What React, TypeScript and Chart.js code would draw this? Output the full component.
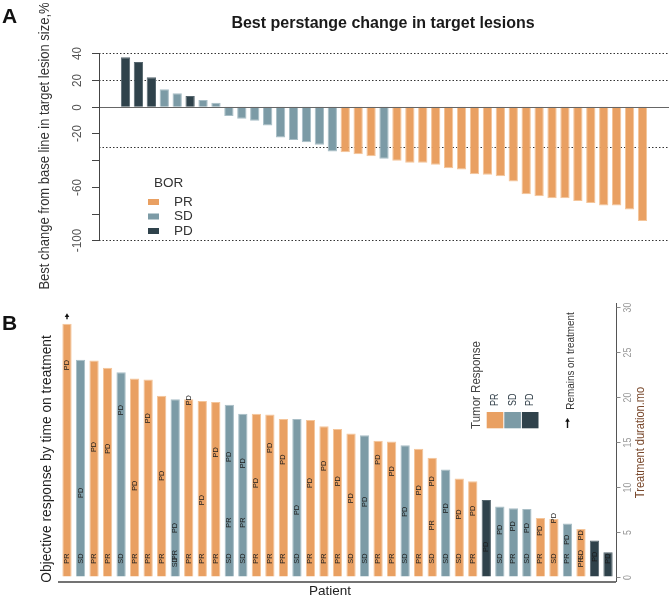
import React, { useEffect, useRef } from 'react';
import { Chart, registerables } from 'chart.js';
Chart.register(...registerables);

const FONT = '"Liberation Sans", Arial, sans-serif';
const COLORS: Record<string, string> = { PR: '#E9A062', SD: '#7C9BA6', PD: '#2F424B' };
const EDGES: Record<string, string> = { PR: '#F4C59A', SD: '#A8BEC6', PD: '#56666E' };

// ---------- Panel A: best % change in target lesions ----------
const changeValues = [
  37, 33.5, 22, 13, 10, 8, 5, 3, -7, -9, -10.5, -14, -23, -25, -26.5, -28.5, -33.5,
  -34, -35.5, -37, -39, -40.5, -42, -42, -43.5, -46, -47, -50.5, -51, -52, -56,
  -65.5, -67, -68.5, -68.5, -70.5, -72, -74, -74, -77, -85.5,
];
const changeBOR = [
  'PD', 'PD', 'PD', 'SD', 'SD', 'PD', 'SD', 'SD', 'SD', 'SD', 'SD', 'SD', 'SD', 'SD', 'SD', 'SD', 'SD',
  'PR', 'PR', 'PR', 'SD', 'PR', 'PR', 'PR', 'PR', 'PR', 'PR', 'PR', 'PR', 'PR', 'PR',
  'PR', 'PR', 'PR', 'PR', 'PR', 'PR', 'PR', 'PR', 'PR', 'PR',
];
const changeTicks = [40, 20, 0, -20, -40, -60, -80, -100];
const changeTickLabels = ['40', '20', '0', '-20', '', '-60', '', '-100'];
const changeRefLines = [40, 20, -30, -100];
const borLegend = ['PR', 'SD', 'PD'];

// ---------- Panel B: time on treatment ----------
const durationMonths = [
  28.1, 24.1, 24.0, 23.2, 22.7, 22.0, 21.9, 20.1, 19.7, 19.7,
  19.5, 19.4, 19.1, 18.1, 18.1, 18.0, 17.5, 17.5, 17.4, 16.7,
  16.4, 15.9, 15.7, 15.1, 15.0, 14.6, 14.2, 13.2, 11.9, 10.9,
  10.6, 8.5, 7.8, 7.6, 7.5, 6.5, 6.4, 5.9, 5.3, 4.0, 2.7,
];
const durationBOR = [
  'PR', 'SD', 'PR', 'PR', 'SD', 'PR', 'PR', 'PR', 'SD', 'PR',
  'PR', 'PR', 'SD', 'SD', 'PR', 'PR', 'PR', 'SD', 'PR', 'PR',
  'PR', 'PR', 'SD', 'PR', 'PR', 'SD', 'PR', 'PR', 'SD', 'PR',
  'PR', 'PD', 'SD', 'SD', 'SD', 'PR', 'PR', 'SD', 'PR', 'PD', 'PD',
];
const startResponse = [
  'PR', 'SD', 'PR', 'PR', 'SD', 'PR', 'PR', 'PR', 'SD', 'PR',
  'PR', 'PR', 'SD', 'SD', 'PR', 'PR', 'PR', 'SD', 'PR', 'PR',
  'PR', 'SD', 'SD', 'PR', 'PR', 'SD', 'PR', 'SD', 'SD', 'SD',
  'PR', null, 'SD', 'PR', 'SD', 'PR', 'SD', 'PR', 'PR', null, null,
];
const startMonth = [
  2, 2, 2, 2, 2, 2, 2, 2, 1.6, 2,
  2, 2, 2, 2, 2, 2, 2, 2, 2, 2,
  2, 2, 2, 2, 2, 2, 2, 2, 2, 2,
  2, 2, 2, 2, 2, 2, 2, 2, 1.6, 2, 2,
];
const pdMonth = [
  23.5, 9.3, 14.4, 14.2, 18.5, 10.1, 17.6, 11.2, 5.4, 19.6,
  8.5, 13.8, 13.3, 12.6, 10.4, 14.3, 13.0, 7.4, 10.4, 12.3,
  10.6, 8.7, 8.3, 13.0, 11.7, 7.2, 9.6, 10.6, 7.6, 6.9,
  7.3, 3.3, 5.2, 5.6, 5.4, 5.1, 6.5, 4.1, 4.6, 2.2, 2.0,
];
const laterPatient = [8, 12, 13, 27, 38];
const laterLabel = ['PR', 'PR', 'PR', 'PR', 'SD'];
const laterMonth = [2.4, 6.0, 6.0, 5.7, 2.4];
const remainsOnTreatment = [0];
const durationTicks = [0, 5, 10, 15, 20, 25, 30];
const tumorLegend = ['PR', 'SD', 'PD'];

function vText(ctx: CanvasRenderingContext2D, text: string, x: number, y: number, font: string, color: string, squeeze = 1) {
  ctx.save();
  ctx.translate(x, y);
  ctx.rotate(-Math.PI / 2);
  ctx.scale(squeeze, 1);
  ctx.font = font;
  ctx.fillStyle = color;
  ctx.textAlign = 'center';
  ctx.textBaseline = 'middle';
  ctx.fillText(text, 0, 0);
  ctx.restore();
}

function arrowUp(ctx: CanvasRenderingContext2D, x: number, yTop: number, yBottom: number, color: string) {
  ctx.save();
  ctx.strokeStyle = color;
  ctx.fillStyle = color;
  ctx.lineWidth = 1.4;
  ctx.beginPath();
  ctx.moveTo(x, yBottom);
  ctx.lineTo(x, yTop + 3);
  ctx.stroke();
  ctx.beginPath();
  ctx.moveTo(x, yTop);
  ctx.lineTo(x - 2.3, yTop + 3.8);
  ctx.lineTo(x + 2.3, yTop + 3.8);
  ctx.closePath();
  ctx.fill();
  ctx.restore();
}

const H_A = 295;
const H_B = 302;
const OFF_B = 295;

export default function App() {
  const refA = useRef<HTMLCanvasElement>(null);
  const refB = useRef<HTMLCanvasElement>(null);

  useEffect(() => {
    const panelA = {
      id: 'panelA',
      beforeDatasetsDraw(chart: any) {
        const { ctx, chartArea, scales } = chart;
        ctx.save();
        ctx.strokeStyle = '#333';
        ctx.lineWidth = 1;
        ctx.setLineDash([1.5, 2]);
        changeRefLines.forEach((v) => {
          const y = Math.round(scales.y.getPixelForValue(v)) + 0.5;
          ctx.beginPath();
          ctx.moveTo(chartArea.left, y);
          ctx.lineTo(chartArea.right, y);
          ctx.stroke();
        });
        ctx.restore();
      },
      afterDatasetsDraw(chart: any) {
        const { ctx, chartArea, scales } = chart;
        const ys = scales.y;
        const left = chartArea.left;
        ctx.save();
        const y0 = Math.round(ys.getPixelForValue(0)) + 0.5;
        ctx.strokeStyle = '#666';
        ctx.lineWidth = 1.2;
        ctx.beginPath();
        ctx.moveTo(left, y0);
        ctx.lineTo(chartArea.right, y0);
        ctx.stroke();
        ctx.strokeStyle = '#444';
        ctx.lineWidth = 1;
        ctx.beginPath();
        ctx.moveTo(left + 0.5, ys.getPixelForValue(40));
        ctx.lineTo(left + 0.5, ys.getPixelForValue(-100));
        ctx.stroke();
        changeTicks.forEach((v, i) => {
          const y = Math.round(ys.getPixelForValue(v)) + 0.5;
          ctx.beginPath();
          ctx.moveTo(left - 7, y);
          ctx.lineTo(left + 0.5, y);
          ctx.stroke();
          if (changeTickLabels[i]) vText(ctx, changeTickLabels[i], left - 22, y, `13px ${FONT}`, '#555', 0.9);
        });
        vText(ctx, 'Best change from base line in target lesion size,%', 45, 146, `14.5px ${FONT}`, '#333', 0.895);
        ctx.font = `bold 16px ${FONT}`;
        ctx.fillStyle = '#1a1a1a';
        ctx.textAlign = 'center';
        ctx.textBaseline = 'alphabetic';
        ctx.fillText('Best perstange change in target lesions', 383, 27.5);
        ctx.font = `bold 21px ${FONT}`;
        ctx.textAlign = 'left';
        ctx.fillStyle = '#111';
        ctx.fillText('A', 2, 23);
        ctx.font = `13.5px ${FONT}`;
        ctx.fillStyle = '#333';
        ctx.textBaseline = 'middle';
        ctx.fillText('BOR', 154, 183);
        borLegend.forEach((k, i) => {
          const cy = 202 + i * 14.5;
          ctx.fillStyle = COLORS[k];
          ctx.fillRect(148, cy - 3, 11, 6);
          ctx.fillStyle = '#333';
          ctx.fillText(k, 174, cy);
        });
        ctx.restore();
      },
    };

    const chartA = new Chart(refA.current!, {
      type: 'bar',
      data: {
        datasets: [{
          data: changeValues.map((v, i) => ({ x: i, y: v })),
          backgroundColor: changeBOR.map((b) => COLORS[b]),
          borderColor: changeBOR.map((b) => EDGES[b]),
          borderWidth: 1,
          barPercentage: 0.9,
          categoryPercentage: 0.8,
        }],
      },
      options: {
        responsive: false,
        animation: false,
        layout: { padding: { left: 99, right: 0, top: 53.3, bottom: H_A - 240.3 } },
        scales: {
          x: { type: 'linear', offset: false, min: -2.05, max: 42.05, display: false },
          y: { type: 'linear', min: -100, max: 40, display: false },
        },
        plugins: { legend: { display: false }, tooltip: { enabled: false } },
      },
      plugins: [panelA],
    } as any);

    const panelB = {
      id: 'panelB',
      afterDatasetsDraw(chart: any) {
        const { ctx, chartArea, scales } = chart;
        const xs = scales.x;
        const ys = scales.y;
        ctx.save();
        const lab = (txt: string, i: number, m: number) =>
          vText(ctx, txt, xs.getPixelForValue(i), ys.getPixelForValue(m), `7.3px ${FONT}`, '#1b1b1b');
        durationMonths.forEach((_, i) => {
          if (startResponse[i]) lab(startResponse[i] as string, i, startMonth[i]);
          if (pdMonth[i] != null) lab('PD', i, pdMonth[i]);
        });
        laterPatient.forEach((p, k) => lab(laterLabel[k], p, laterMonth[k]));
        remainsOnTreatment.forEach((i) => {
          const x = xs.getPixelForValue(i);
          const top = ys.getPixelForValue(durationMonths[i]);
          arrowUp(ctx, x, top - 10.5, top - 4.5, '#111');
        });
        ctx.strokeStyle = '#444';
        ctx.lineWidth = 1.5;
        ctx.beginPath();
        ctx.moveTo(chartArea.left, chartArea.bottom);
        ctx.lineTo(chartArea.right, chartArea.bottom);
        ctx.stroke();
        ctx.lineWidth = 1;
        ctx.strokeStyle = '#555';
        const ax = chartArea.right + 0.5;
        ctx.beginPath();
        ctx.moveTo(ax, chartArea.top);
        ctx.lineTo(ax, chartArea.bottom);
        ctx.stroke();
        durationTicks.forEach((v) => {
          const y = Math.round(ys.getPixelForValue(v)) + 0.5;
          ctx.strokeStyle = '#888';
          ctx.beginPath();
          ctx.moveTo(ax, y);
          ctx.lineTo(ax + 4, y);
          ctx.stroke();
          vText(ctx, String(v), ax + 11.5, y, `10px ${FONT}`, '#999', 0.88);
        });
        vText(ctx, 'Treatment duration.mo', 641, 442.5 - OFF_B, `12px ${FONT}`, '#7A4A2E', 0.92);
        vText(ctx, 'Objective response by time on treatment', 47, 459 - OFF_B, `15.5px ${FONT}`, '#222', 0.89);
        ctx.font = `13.5px ${FONT}`;
        ctx.fillStyle = '#222';
        ctx.textAlign = 'center';
        ctx.textBaseline = 'middle';
        ctx.fillText('Patient', 330, 591.5 - OFF_B);
        ctx.font = `bold 21px ${FONT}`;
        ctx.textAlign = 'left';
        ctx.textBaseline = 'alphabetic';
        ctx.fillStyle = '#111';
        ctx.fillText('B', 2, 330 - OFF_B);
        vText(ctx, 'Tumor Response', 477, 385 - OFF_B, `12.5px ${FONT}`, '#444', 0.92);
        tumorLegend.forEach((k, i) => {
          const x0 = 486.7 + i * 17.6;
          ctx.fillStyle = COLORS[k];
          ctx.fillRect(x0, 412 - OFF_B, 16.6, 16.3);
          vText(ctx, k, x0 + 8.8, 399.7 - OFF_B, `10px ${FONT}`, '#2d3b45', 0.9);
        });
        arrowUp(ctx, 567.5, 418 - OFF_B, 428 - OFF_B, '#111');
        vText(ctx, 'Remains on treatment', 570.5, 361 - OFF_B, `11px ${FONT}`, '#333', 0.9);
        ctx.restore();
      },
    };

    const chartB = new Chart(refB.current!, {
      type: 'bar',
      data: {
        datasets: [{
          data: durationMonths.map((v, i) => ({ x: i, y: v })),
          backgroundColor: durationBOR.map((b) => COLORS[b]),
          borderColor: durationBOR.map((b) => EDGES[b]),
          borderWidth: 1,
          barPercentage: 0.86,
          categoryPercentage: 0.8,
        }],
      },
      options: {
        responsive: false,
        animation: false,
        layout: { padding: { left: 58, right: 669 - 616, top: 303 - OFF_B, bottom: H_B - (582 - OFF_B) } },
        scales: {
          x: { type: 'linear', offset: false, min: -0.665, max: 40.59, display: false },
          y: { type: 'linear', min: -0.6, max: 30.4, display: false },
        },
        plugins: { legend: { display: false }, tooltip: { enabled: false } },
      },
      plugins: [panelB],
    } as any);

    return () => {
      chartA.destroy();
      chartB.destroy();
    };
  }, []);

  return (
    <div style={{ position: 'absolute', left: 0, top: 0, width: 669, height: 597, background: '#fff' }}>
      <canvas ref={refA} width={669} height={H_A} style={{ position: 'absolute', left: 0, top: 0, width: 669, height: H_A }} />
      <canvas ref={refB} width={669} height={H_B} style={{ position: 'absolute', left: 0, top: OFF_B, width: 669, height: H_B }} />
    </div>
  );
}
